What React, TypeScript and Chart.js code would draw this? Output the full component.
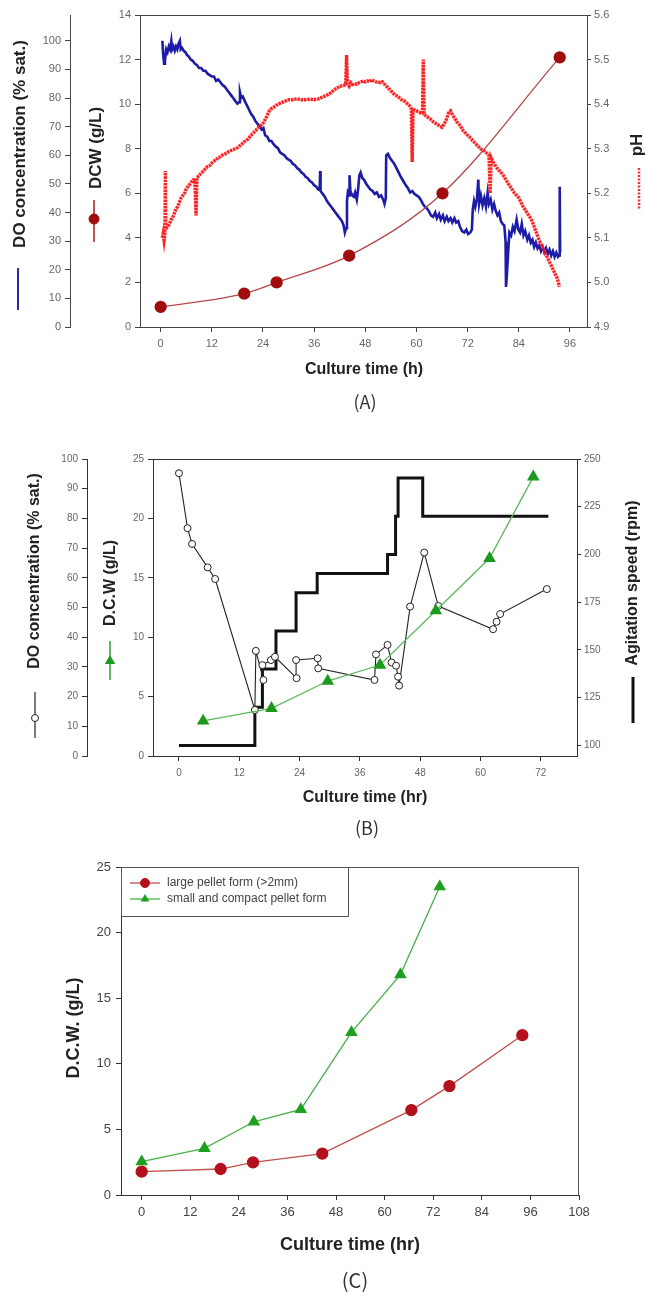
import { useEffect, useRef } from "react";
import { Chart, registerables } from "chart.js";

Chart.register(...registerables);

const SANS = "'Liberation Sans', Arial, sans-serif";
const PANEL_FONT = "'Noto Sans CJK KR', 'Noto Sans', sans-serif";

// ---------------- Panel (A): DO, DCW and pH over 96 h ----------------
const A_TIME_TICKS = [0, 12, 24, 36, 48, 60, 72, 84, 96];
const A_DO_TICKS = [0, 10, 20, 30, 40, 50, 60, 70, 80, 90, 100];
const A_DCW_TICKS = [0, 2, 4, 6, 8, 10, 12, 14];
const A_PH_TICKS = [4.9, 5.0, 5.1, 5.2, 5.3, 5.4, 5.5, 5.6];

const A_DCW_HOURS = [0, 19.6, 27.2, 44.2, 66.1, 93.6];
const A_DCW_VALUES = [0.9, 1.5, 2.0, 3.2, 6.0, 12.1];

// online DO probe log: [hour, % saturation]
const A_DO_LOG = [
  [0.4, 100], [0.6, 95], [0.8, 92], [1.0, 93], [1.3, 97], [1.6, 96], [1.9, 98], [2.2, 97], [2.5, 100], [2.7, 97],
  [3.0, 98], [3.3, 96.5], [3.6, 98], [3.9, 97], [4.2, 99], [4.5, 100], [4.7, 97], [5.0, 97.5], [5.4, 96.5], [5.8, 96],
  [6.2, 95], [6.6, 94.5], [7.0, 93.5], [7.5, 93], [8.0, 92], [8.5, 91.5], [9.0, 90.5], [9.5, 90.5], [10.0, 89.5], [10.5, 89.5],
  [11.0, 88.5], [11.5, 88], [12.0, 87.5], [12.5, 87.5], [13.0, 86], [13.5, 86.5], [14.0, 85.5], [14.5, 84.5], [15.0, 84], [15.5, 83],
  [16.0, 82], [16.5, 81], [17.0, 80], [17.5, 79], [18.0, 78], [18.4, 78.5], [18.6, 82], [18.9, 80], [19.3, 80.5], [19.7, 79],
  [20.2, 77.5], [20.7, 76], [21.2, 74.5], [21.7, 73.5], [22.2, 72], [22.7, 71], [23.2, 70], [23.7, 69], [24.1, 69.5], [24.5, 67],
  [25.0, 66.5], [25.5, 65], [26.0, 65], [26.4, 64], [27.0, 63], [27.5, 62.5], [28.0, 61], [28.5, 60.5], [29.0, 60], [29.5, 59],
  [30.0, 58.5], [30.5, 58], [31.0, 57], [31.5, 56.5], [32.0, 55.5], [32.5, 55], [33.0, 54], [33.5, 53.5], [34.0, 52.5], [34.5, 52],
  [35.0, 51], [35.5, 50.5], [36.0, 49.5], [36.5, 49], [37.0, 48], [37.3, 48], [37.4, 54.5], [37.5, 47.5], [38.0, 46.5], [38.5, 45.5],
  [39.0, 44], [39.5, 43], [40.0, 42], [40.5, 41], [41.0, 40], [41.5, 39], [42.0, 38], [42.5, 37], [42.9, 35.5], [43.2, 33],
  [43.5, 34.5], [43.7, 44], [43.9, 47], [44.2, 46], [44.3, 53], [44.5, 47.5], [44.9, 46], [45.3, 45.5], [45.6, 47], [46.0, 44.5],
  [46.3, 48], [46.6, 53], [46.9, 54], [47.3, 52], [47.7, 51.5], [48.2, 50], [48.7, 49], [49.2, 48], [49.7, 47.5], [50.2, 46.5],
  [50.7, 47], [51.2, 45.5], [51.7, 46], [52.2, 44.5], [52.5, 43], [52.8, 45], [52.9, 60], [53.3, 60.5], [53.8, 59], [54.3, 58],
  [54.8, 57], [55.3, 55.5], [55.8, 54], [56.3, 52.5], [56.9, 51], [57.5, 49.5], [58.0, 48.5], [58.5, 47], [59.0, 47.5], [59.5, 46.5],
  [60.0, 46], [60.5, 45.5], [61.0, 44.5], [61.5, 43], [62.0, 42], [62.4, 41.5], [62.9, 40.5], [63.4, 39], [63.9, 38.5], [64.4, 40],
  [64.8, 38], [65.3, 39.5], [65.7, 37.5], [66.2, 39], [66.6, 37], [67.1, 38.5], [67.5, 37], [68.0, 38], [68.4, 36.5], [68.9, 38],
  [69.3, 36.5], [69.8, 37], [70.2, 35], [70.7, 33.5], [71.2, 33], [71.7, 34], [72.1, 32.5], [72.6, 33], [73.0, 34], [73.2, 41],
  [73.5, 44], [73.8, 42], [74.2, 45], [74.5, 51.5], [74.7, 43], [75.1, 46], [75.5, 42.5], [75.9, 45], [76.3, 42], [76.7, 47],
  [77.0, 43], [77.4, 44.5], [77.8, 41], [78.2, 43], [78.6, 40.5], [79.0, 39], [79.4, 40], [79.8, 37], [80.2, 36], [80.6, 35.5],
  [80.9, 30], [81.0, 14], [81.2, 18], [81.5, 26], [81.8, 33], [82.2, 32], [82.6, 35], [83.0, 33.5], [83.5, 37.5], [83.9, 34],
  [84.3, 33], [84.7, 36], [85.1, 32], [85.5, 33.5], [86.0, 30.5], [86.4, 32], [86.8, 29.5], [87.2, 30.5], [87.6, 28], [88.0, 29.5],
  [88.4, 27.5], [88.8, 28.5], [89.2, 26.5], [89.6, 28], [90.0, 26], [90.4, 27.5], [90.8, 25.5], [91.2, 27], [91.6, 25], [92.0, 26.5],
  [92.4, 24.5], [92.8, 26], [93.2, 24.5], [93.5, 25], [93.6, 49], [93.7, 26],
];

// online pH probe log: [hour, pH]
const A_PH_LOG = [
  [0.4, 5.10], [0.6, 5.11], [0.8, 5.095], [1.0, 5.11], [1.1, 5.25], [1.2, 5.12], [1.6, 5.125], [2.0, 5.13], [2.4, 5.14], [2.8, 5.145],
  [3.2, 5.155], [3.6, 5.165], [4.0, 5.17], [4.4, 5.18], [4.8, 5.19], [5.2, 5.195], [5.6, 5.20], [6.0, 5.21], [6.4, 5.215], [6.8, 5.22],
  [7.2, 5.225], [7.6, 5.23], [8.0, 5.23], [8.3, 5.15], [8.5, 5.235], [9.0, 5.24], [9.5, 5.245], [10, 5.25], [10.5, 5.255], [11, 5.26],
  [11.5, 5.262], [12, 5.268], [12.5, 5.272], [13, 5.275], [13.5, 5.28], [14, 5.282], [14.5, 5.286], [15, 5.288], [15.5, 5.29], [16, 5.294],
  [16.5, 5.296], [17, 5.298], [17.5, 5.30], [18, 5.302], [18.5, 5.306], [19, 5.31], [19.5, 5.315], [20, 5.318], [20.5, 5.322], [21, 5.328],
  [21.5, 5.333], [22, 5.338], [22.5, 5.343], [23, 5.348], [23.5, 5.352], [24, 5.357], [24.5, 5.365], [25, 5.375], [25.5, 5.385], [26, 5.39],
  [26.5, 5.393], [27, 5.396], [27.5, 5.40], [28, 5.402], [28.5, 5.404], [29, 5.406], [29.5, 5.408], [30, 5.41], [31, 5.41], [32, 5.412],
  [33, 5.41], [34, 5.41], [35, 5.411], [36, 5.41], [37, 5.412], [38, 5.416], [39, 5.42], [40, 5.426], [41, 5.434], [42, 5.44],
  [43, 5.442], [43.4, 5.445], [43.6, 5.51], [43.8, 5.445], [44.2, 5.44], [44.6, 5.448], [45, 5.444], [45.5, 5.446], [46, 5.445], [46.5, 5.448],
  [47, 5.45], [47.5, 5.452], [48, 5.45], [48.5, 5.452], [49, 5.45], [49.5, 5.455], [50, 5.452], [50.5, 5.45], [51, 5.45], [51.5, 5.448],
  [52, 5.45], [52.5, 5.445], [53, 5.44], [53.5, 5.435], [54, 5.43], [54.5, 5.425], [55, 5.42], [55.5, 5.418], [56, 5.414], [56.5, 5.41],
  [57, 5.408], [57.5, 5.404], [58, 5.40], [58.5, 5.395], [58.8, 5.39], [59.0, 5.27], [59.2, 5.39], [59.5, 5.387], [60, 5.385], [60.5, 5.383],
  [61, 5.38], [61.4, 5.38], [61.6, 5.50], [61.8, 5.378], [62, 5.375], [62.5, 5.372], [63, 5.368], [63.5, 5.365], [64, 5.36], [64.5, 5.357],
  [65, 5.354], [65.5, 5.35], [66, 5.348], [66.5, 5.355], [67, 5.365], [67.5, 5.38], [68, 5.385], [68.5, 5.375], [69, 5.368], [69.5, 5.36],
  [70, 5.355], [70.5, 5.348], [71, 5.34], [71.5, 5.335], [72, 5.33], [72.5, 5.326], [73, 5.32], [73.5, 5.315], [74, 5.31], [74.5, 5.305],
  [75, 5.30], [75.5, 5.297], [76, 5.294], [76.5, 5.29], [77, 5.285], [77.3, 5.20], [77.5, 5.28], [78, 5.27], [78.5, 5.262], [79, 5.255],
  [79.5, 5.25], [80, 5.245], [80.5, 5.238], [81, 5.23], [81.5, 5.222], [82, 5.215], [82.5, 5.208], [83, 5.20], [83.5, 5.195], [84, 5.19],
  [84.5, 5.18], [85, 5.17], [85.5, 5.163], [86, 5.155], [86.5, 5.148], [87, 5.14], [87.5, 5.128], [88, 5.115], [88.5, 5.102], [89, 5.09],
  [89.5, 5.08], [90, 5.07], [90.5, 5.06], [91, 5.05], [91.5, 5.04], [92, 5.03], [92.5, 5.02], [93, 5.01], [93.3, 5.00], [93.5, 4.99],
];

// ---------------- Panel (B): DO, D.C.W and agitation over 72 h ----------------
const B_TIME_TICKS = [0, 12, 24, 36, 48, 60, 72];
const B_DO_TICKS = [0, 10, 20, 30, 40, 50, 60, 70, 80, 90, 100];
const B_DCW_TICKS = [0, 5, 10, 15, 20, 25];
const B_RPM_TICKS = [100, 125, 150, 175, 200, 225, 250];

const B_DO_SAMPLES = [
  [0, 95.2], [1.7, 76.7], [2.6, 71.4], [5.7, 63.5], [7.2, 59.6], [15.1, 15.5], [15.3, 35.4], [16.8, 25.6], [16.6, 30.6],
  [18.3, 32.3], [19.1, 33.4], [23.4, 26.2], [23.3, 32.3], [27.6, 32.9], [27.7, 29.5], [38.9, 25.6], [39.2, 34.2],
  [41.5, 37.4], [42.3, 31.5], [43.2, 30.4], [43.6, 26.7], [43.8, 23.7], [46.0, 50.3], [48.8, 68.5], [51.6, 50.5],
  [62.5, 42.7], [63.2, 45.2], [63.9, 47.8], [73.2, 56.2],
];
const B_DCW_HOURS = [4.8, 18.4, 29.6, 40.0, 51.1, 61.8, 70.5];
const B_DCW_VALUES = [2.95, 4.01, 6.31, 7.66, 12.23, 16.64, 23.5];
const B_RPM_HOURS = [0, 15.1, 16.6, 19.3, 23.3, 27.5, 41.5, 43.1, 43.6, 48.5, 73.5];
const B_RPM_VALUES = [100, 120, 140, 160, 180, 190, 200, 220, 240, 220, 220];

// ---------------- Panel (C): D.C.W of the two pellet forms ----------------
const C_TIME_TICKS = [0, 12, 24, 36, 48, 60, 72, 84, 96, 108];
const C_DCW_TICKS = [0, 5, 10, 15, 20, 25];
const C_SERIES_NAMES = ["large pellet form (>2mm)", "small and compact pellet form"];
const C_LARGE_HOURS = [0, 19.5, 27.5, 44.6, 66.6, 76.0, 94.0];
const C_LARGE_VALUES = [1.78, 1.98, 2.49, 3.15, 6.47, 8.30, 12.18];
const C_SMALL_HOURS = [0, 15.5, 27.7, 39.3, 51.8, 63.9, 73.6];
const C_SMALL_VALUES = [2.54, 3.55, 5.58, 6.52, 12.39, 16.8, 23.5];

// ---------------- helpers ----------------
const pairsXY = (pairs) => pairs.map(([x, y]) => ({ x, y }));
const zipXY = (xs, ys) => xs.map((x, i) => ({ x, y: ys[i] }));

function axis(o) {
  return {
    type: "linear",
    position: o.position,
    min: o.min,
    max: o.max,
    weight: o.weight ?? 0,
    afterBuildTicks: (s) => {
      s.ticks = o.ticks.map((value) => ({ value }));
    },
    afterFit: (s) => {
      if (o.width !== undefined) s.width = o.width;
      if (o.height !== undefined) s.height = o.height;
    },
    grid: {
      display: true,
      drawOnChartArea: false,
      drawTicks: true,
      tickLength: o.tickLength ?? 5,
      tickWidth: 1,
      tickColor: o.line,
    },
    border: { display: true, color: o.line, width: 1 },
    ticks: {
      autoSkip: false,
      maxRotation: 0,
      minRotation: 0,
      padding: o.pad ?? 4,
      color: o.color,
      font: { family: SANS, size: o.size },
      callback: o.format ?? ((v) => String(v)),
    },
  };
}

function vText(ctx, text, x, y, font, color) {
  ctx.save();
  ctx.translate(x, y);
  ctx.rotate(-Math.PI / 2);
  ctx.font = font;
  ctx.fillStyle = color;
  ctx.textAlign = "center";
  ctx.textBaseline = "middle";
  ctx.fillText(text, 0, 0);
  ctx.restore();
}

function hText(ctx, text, x, y, font, color, align = "center") {
  ctx.save();
  ctx.font = font;
  ctx.fillStyle = color;
  ctx.textAlign = align;
  ctx.textBaseline = "middle";
  ctx.fillText(text, x, y);
  ctx.restore();
}

function segment(ctx, x1, y1, x2, y2, color, width, dash = []) {
  ctx.save();
  ctx.strokeStyle = color;
  ctx.lineWidth = width;
  ctx.setLineDash(dash);
  ctx.beginPath();
  ctx.moveTo(x1, y1);
  ctx.lineTo(x2, y2);
  ctx.stroke();
  ctx.restore();
}

function dot(ctx, x, y, r, fill, stroke, width = 1) {
  ctx.save();
  ctx.beginPath();
  ctx.arc(x, y, r, 0, Math.PI * 2);
  ctx.fillStyle = fill;
  ctx.fill();
  ctx.strokeStyle = stroke;
  ctx.lineWidth = width;
  ctx.stroke();
  ctx.restore();
}

function tri(ctx, x, y, r, fill) {
  ctx.save();
  ctx.beginPath();
  for (let k = 0; k < 3; k++) {
    const a = (k * 2 * Math.PI) / 3;
    const px = x + Math.sin(a) * r;
    const py = y - Math.cos(a) * r;
    if (k === 0) ctx.moveTo(px, py);
    else ctx.lineTo(px, py);
  }
  ctx.closePath();
  ctx.fillStyle = fill;
  ctx.fill();
  ctx.restore();
}

const baseOptions = (padding, scales) => ({
  responsive: false,
  maintainAspectRatio: false,
  animation: false,
  events: [],
  layout: { padding },
  plugins: { legend: { display: false }, tooltip: { enabled: false } },
  scales,
});

// ---------------- chart configs ----------------
function configA() {
  const decor = {
    id: "decorA",
    afterDraw(chart) {
      const { ctx, chartArea: a } = chart;
      segment(ctx, a.left, a.top + 0.5, a.right, a.top + 0.5, "#444", 1);
      vText(ctx, "DO concentration (% sat.)", 20, 144, `bold 17px ${SANS}`, "#222");
      segment(ctx, 18, 268, 18, 310, "#2a2aa8", 2);
      vText(ctx, "DCW (g/L)", 96, 148, `bold 17px ${SANS}`, "#222");
      segment(ctx, 94, 200, 94, 242, "#a52222", 1.5);
      dot(ctx, 94, 219, 5, "#a00d0d", "#a00d0d");
      vText(ctx, "pH", 637, 145, `bold 17px ${SANS}`, "#222");
      segment(ctx, 639, 168, 639, 210, "#ff2a2a", 2.5, [2, 1.5]);
      hText(ctx, "Culture time (h)", 364, 370, `bold 16px ${SANS}`, "#222");
      hText(ctx, "(A)", 365, 402, `18px ${PANEL_FONT}`, "#333");
    },
  };
  return {
    type: "line",
    data: {
      datasets: [
        {
          data: zipXY(A_DCW_HOURS, A_DCW_VALUES),
          yAxisID: "yDCW",
          borderColor: "#b44848",
          borderWidth: 1.3,
          cubicInterpolationMode: "monotone",
          pointRadius: 5.5,
          pointBackgroundColor: "#a00d0d",
          pointBorderColor: "#a00d0d",
          order: 0,
        },
        {
          data: pairsXY(A_PH_LOG),
          yAxisID: "yPH",
          borderColor: "#ff2424",
          borderWidth: 3.4,
          borderDash: [2.5, 0.8],
          pointRadius: 0,
          order: 1,
        },
        {
          data: pairsXY(A_DO_LOG),
          yAxisID: "yDO",
          borderColor: "#1c1ca6",
          borderWidth: 2.6,
          pointRadius: 0,
          order: 2,
        },
      ],
    },
    options: baseOptions({ top: 15, left: 0, right: 0, bottom: 0 }, {
      x: axis({ position: "bottom", min: -4.85, max: 100, ticks: A_TIME_TICKS, height: 103, line: "#444", color: "#666", size: 11, pad: 5 }),
      yDO: axis({ position: "left", weight: 2, min: 0, max: 109, ticks: A_DO_TICKS, width: 70, line: "#444", color: "#666", size: 11, pad: 4 }),
      yDCW: axis({ position: "left", weight: 1, min: 0, max: 14, ticks: A_DCW_TICKS, width: 70, line: "#444", color: "#666", size: 11, pad: 4 }),
      yPH: axis({ position: "right", min: 4.9, max: 5.6, ticks: A_PH_TICKS, width: 58, line: "#444", color: "#666", size: 11, pad: 3, tickLength: 4, format: (v) => Number(v).toFixed(1) }),
    }),
    plugins: [decor],
  };
}

function configB() {
  const decor = {
    id: "decorB",
    afterDraw(chart) {
      const { ctx, chartArea: a } = chart;
      segment(ctx, a.left, a.top + 0.5, a.right, a.top + 0.5, "#333", 1);
      vText(ctx, "DO concentration (% sat.)", 35, 131, `bold 16px ${SANS}`, "#222");
      segment(ctx, 35, 252, 35, 298, "#222", 1.2);
      dot(ctx, 35, 278, 3.5, "#fff", "#222");
      vText(ctx, "D.C.W (g/L)", 111, 143, `bold 16px ${SANS}`, "#222");
      segment(ctx, 110, 201, 110, 240, "#2f9f2f", 1.5);
      tri(ctx, 110, 221, 6, "#1b9a1b");
      vText(ctx, "Agitation speed (rpm)", 633, 143, `bold 16px ${SANS}`, "#222");
      segment(ctx, 633, 237, 633, 283, "#111", 3);
      hText(ctx, "Culture time (hr)", 365, 358, `bold 16px ${SANS}`, "#222");
      hText(ctx, "(B)", 367, 388, `18px ${PANEL_FONT}`, "#333");
    },
  };
  return {
    type: "line",
    data: {
      datasets: [
        {
          data: zipXY(B_DCW_HOURS, B_DCW_VALUES),
          yAxisID: "yDCW",
          borderColor: "#5cb85c",
          borderWidth: 1.3,
          pointStyle: "triangle",
          pointRadius: 6,
          pointBackgroundColor: "#1b9a1b",
          pointBorderColor: "#1b9a1b",
          order: 0,
        },
        {
          data: pairsXY(B_DO_SAMPLES),
          yAxisID: "yDO",
          borderColor: "#222",
          borderWidth: 1.1,
          pointRadius: 3.5,
          pointBackgroundColor: "#fff",
          pointBorderColor: "#222",
          pointBorderWidth: 1,
          order: 1,
        },
        {
          data: zipXY(B_RPM_HOURS, B_RPM_VALUES),
          yAxisID: "yRPM",
          borderColor: "#111",
          borderWidth: 3,
          stepped: "before",
          pointRadius: 0,
          order: 2,
        },
      ],
    },
    options: baseOptions({ top: 19, left: 0, right: 0, bottom: 0 }, {
      x: axis({ position: "bottom", min: -5.17, max: 79.2, ticks: B_TIME_TICKS, height: 84, line: "#333", color: "#666", size: 10, pad: 6 }),
      yDO: axis({ position: "left", weight: 2, min: 0, max: 100, ticks: B_DO_TICKS, width: 87, line: "#333", color: "#666", size: 10, pad: 4 }),
      yDCW: axis({ position: "left", weight: 1, min: 0, max: 25, ticks: B_DCW_TICKS, width: 66, line: "#333", color: "#666", size: 10, pad: 4 }),
      yRPM: axis({ position: "right", min: 94.5, max: 250, ticks: B_RPM_TICKS, width: 68, line: "#333", color: "#666", size: 10, pad: 3, tickLength: 4 }),
    }),
    plugins: [decor],
  };
}

function configC() {
  const RED = "#b3101c";
  const GREEN = "#1ea01e";
  const decor = {
    id: "decorC",
    afterDraw(chart) {
      const { ctx, chartArea: a } = chart;
      segment(ctx, a.left, a.top + 0.5, a.right, a.top + 0.5, "#555", 1);
      segment(ctx, a.right - 0.5, a.top, a.right - 0.5, a.bottom, "#555", 1);
      // legend box in the top-left corner of the plot
      ctx.save();
      ctx.strokeStyle = "#555";
      ctx.lineWidth = 1;
      ctx.strokeRect(a.left + 0.5, a.top + 0.5, 227, 49);
      ctx.restore();
      segment(ctx, 130, 33, 160, 33, "#c0504d", 1.3);
      dot(ctx, 145, 33, 4.5, RED, RED);
      hText(ctx, C_SERIES_NAMES[0], 167, 33, `12px ${SANS}`, "#444", "left");
      segment(ctx, 130, 49, 160, 49, "#48b048", 1.3);
      tri(ctx, 145, 49, 5, GREEN);
      hText(ctx, C_SERIES_NAMES[1], 167, 49, `12px ${SANS}`, "#444", "left");
      vText(ctx, "D.C.W. (g/L)", 74, 178, `bold 18px ${SANS}`, "#222");
      hText(ctx, "Culture time (hr)", 350, 395, `bold 18px ${SANS}`, "#222");
      hText(ctx, "(C)", 355, 430, `20px ${PANEL_FONT}`, "#333");
    },
  };
  return {
    type: "line",
    data: {
      datasets: [
        {
          label: C_SERIES_NAMES[0],
          data: zipXY(C_LARGE_HOURS, C_LARGE_VALUES),
          borderColor: "#c0504d",
          borderWidth: 1.3,
          pointRadius: 5.5,
          pointBackgroundColor: RED,
          pointBorderColor: RED,
        },
        {
          label: C_SERIES_NAMES[1],
          data: zipXY(C_SMALL_HOURS, C_SMALL_VALUES),
          borderColor: "#48b048",
          borderWidth: 1.3,
          pointStyle: "triangle",
          pointRadius: 6,
          pointBackgroundColor: GREEN,
          pointBorderColor: GREEN,
        },
      ],
    },
    options: baseOptions({ top: 17, left: 0, right: 66, bottom: 0 }, {
      x: axis({ position: "bottom", min: -5.1, max: 108, ticks: C_TIME_TICKS, height: 98, line: "#333", color: "#444", size: 13, pad: 5 }),
      y: axis({ position: "left", min: 0, max: 25, ticks: C_DCW_TICKS, width: 121, line: "#333", color: "#444", size: 13, pad: 5 }),
    }),
    plugins: [decor],
  };
}

function Panel({ top, height, build }) {
  const ref = useRef(null);
  useEffect(() => {
    const chart = new Chart(ref.current, build());
    return () => chart.destroy();
  }, [build]);
  return (
    <canvas
      ref={ref}
      width={645}
      height={height}
      style={{ position: "absolute", left: 0, top, width: 645, height }}
    />
  );
}

export default function App() {
  useEffect(() => {
    document.body.style.margin = "0";
  }, []);
  return (
    <div style={{ position: "absolute", left: 0, top: 0, width: 645, height: 1293, background: "#fff" }}>
      <Panel top={0} height={430} build={configA} />
      <Panel top={440} height={400} build={configB} />
      <Panel top={850} height={443} build={configC} />
    </div>
  );
}
